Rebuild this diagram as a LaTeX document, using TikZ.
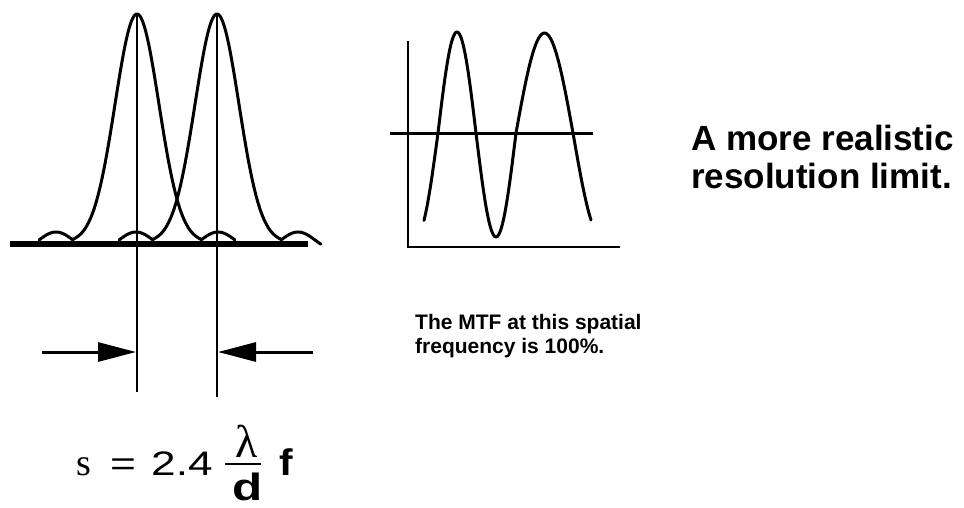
\documentclass[tikz,border=0pt]{standalone}
\usepackage{fontspec}
\usepackage{graphicx}
\setmainfont{Liberation Sans}
\newfontfamily\serifx{Liberation Serif}
\usetikzlibrary{arrows.meta}
\begin{document}
\begin{tikzpicture}[x=1pt,y=-1pt,
  curve/.style={line width=3pt, line join=round, line cap=round},
  thinline/.style={line width=2pt},
  axisline/.style={line width=2.5pt},
  baseline/.style={line width=6pt},
  txt/.style={inner sep=0pt, anchor=base west},
  head/.style={txt, font=\fontsize{35}{35}\selectfont\bfseries},
  note/.style={txt, font=\fontsize{21}{21}\selectfont\bfseries},
  arr/.style={line width=3pt, -{Triangle[length=38pt,width=19pt]}}]
\useasboundingbox[fill=white] (0,0) rectangle (964,507);

% ---- point spread functions ----
\coordinate (base-l) at (10,244);
\coordinate (base-r) at (308,244);
\draw[baseline] (base-l) -- (base-r);

\draw[curve]
  plot[domain=-98:-64, samples=25] ({137+\x},{240-8*sin(180*(-(\x)-64)/34)})
  -- plot[domain=-64:64, samples=100] ({137+\x},{242.4-228.4*exp(-(\x/31)*(\x/31))})
  -- plot[domain=64:98, samples=25] ({137+\x},{240-8*sin(180*(\x-64)/34)});
\draw[curve]
  plot[domain=-98:-64, samples=25] ({217+\x},{240-8*sin(180*(-(\x)-64)/34)})
  -- plot[domain=-64:64, samples=100] ({217+\x},{242.4-228.4*exp(-(\x/31)*(\x/31))})
  -- plot[domain=64:104, samples=30] ({217+\x},{240-8*sin(180*(\x-64)/34)});

\coordinate (v1-top) at (137,15);
\coordinate (v1-bot) at (137,392);
\coordinate (v2-top) at (217,15);
\coordinate (v2-bot) at (217,397);
\draw[thinline] (v1-top) -- (v1-bot);
\draw[thinline] (v2-top) -- (v2-bot);

\coordinate (a1-start) at (42,352);
\coordinate (a1-tip) at (136,352);
\coordinate (a2-start) at (313,352);
\coordinate (a2-tip) at (218,352);
\draw[arr] (a1-start) -- (a1-tip);
\draw[arr] (a2-start) -- (a2-tip);

% ---- formula ----
\node[txt, font=\serifx\fontsize{38}{38}\selectfont] (s) at (76,475) {s};
\node[txt, font=\fontsize{34}{34}\selectfont] (eq) at (110,475) {\scalebox{1.3}[1]{=}};
\node[txt, font=\fontsize{34}{34}\selectfont] (num) at (151,475) {\scalebox{1.3}[1]{2.4}};
\node[inner sep=0pt, anchor=base, font=\serifx\fontsize{46}{46}\selectfont] (lam) at (247,457) {λ};
\coordinate (bar-l) at (225,464);
\coordinate (bar-r) at (261,464);
\draw[line width=2pt] (bar-l) -- (bar-r);
\node[inner sep=0pt, anchor=base, font=\fontsize{38}{38}\selectfont\bfseries] (d) at (248,500) {\scalebox{1.3}[1]{d}};
\node[txt, font=\fontsize{37}{37}\selectfont\bfseries] (f) at (279,475) {\scalebox{1.1}[1]{f}};

% ---- MTF plot ----
\coordinate (ax-top) at (408,41);
\coordinate (ax-org) at (408,247);
\coordinate (ax-right) at (620,247);
\draw[axisline, line join=miter] (ax-top) -- (ax-org) -- (ax-right);
\coordinate (mean-l) at (390,133);
\coordinate (mean-r) at (593,133);
\draw[line width=3pt] (mean-l) -- (mean-r);

\draw[curve]
  plot[domain=424:438, samples=10] (\x,{133+104*sin(180*(438-\x)/44)})
  -- plot[domain=438:476, samples=40] (\x,{133-101*sin(180*(\x-438)/38)})
  -- plot[domain=476:516, samples=40] (\x,{133+104*sin(180*(\x-476)/40)})
  -- plot[domain=516:573, samples=50] (\x,{133-100*sin(180*(\x-516)/57)})
  -- plot[domain=573:591, samples=15] (\x,{133+104*sin(180*(\x-573)/57)});

% ---- texts ----
\node[head] (h1) at (691,150) {A more realistic};
\node[head] (h2) at (691,188) {resolution limit.};
\node[note] (n1) at (415,329) {The MTF at this spatial};
\node[note] (n2) at (415,353) {frequency is 100\%.};
\end{tikzpicture}
\end{document}
